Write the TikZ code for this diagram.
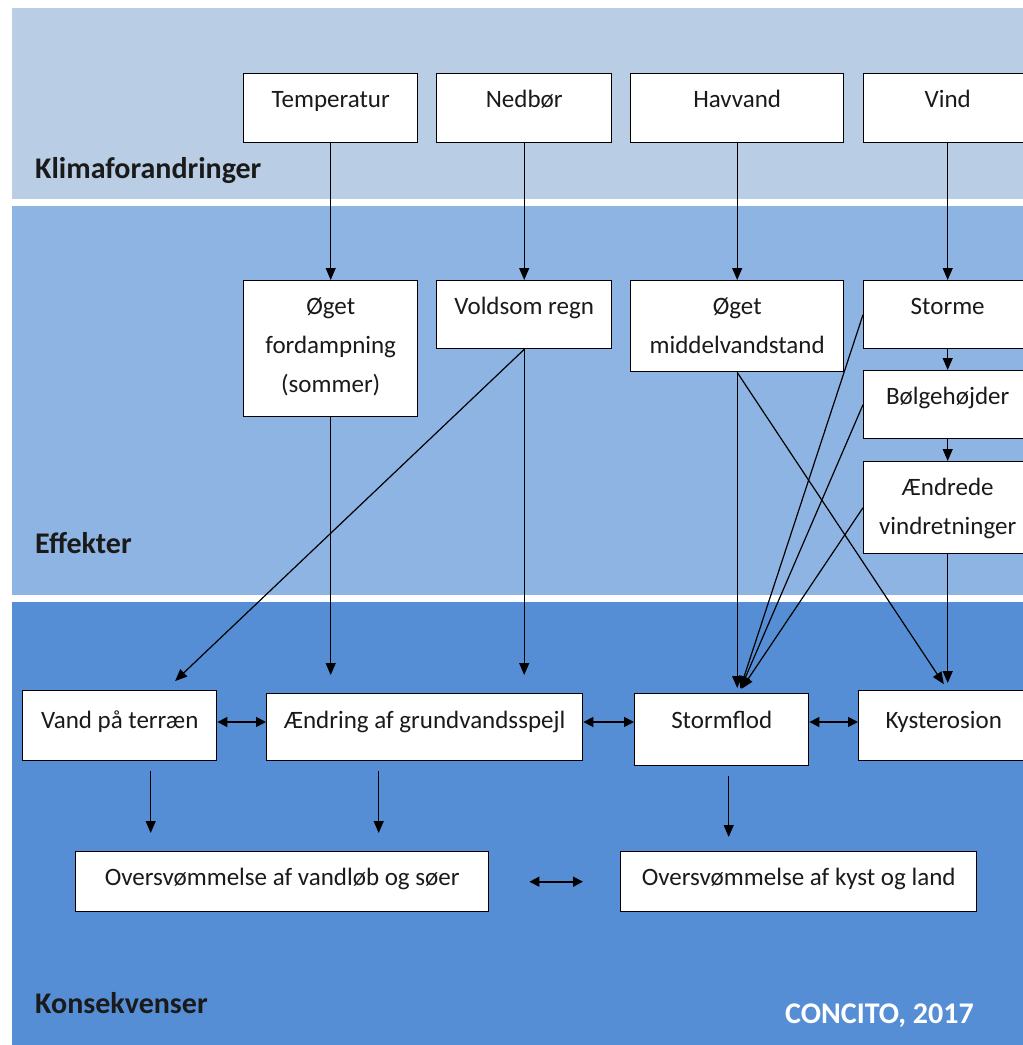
\documentclass[tikz,border=0pt]{standalone}
\usepackage{fontspec}
\setmainfont{Carlito}
\usetikzlibrary{arrows.meta,calc}
\definecolor{bandA}{HTML}{B9CDE5}
\definecolor{bandB}{HTML}{8EB4E3}
\definecolor{bandC}{HTML}{558ED5}
\definecolor{ink}{HTML}{1A1A1A}
\newcommand{\bxt}[3]{\parbox[t][#2pt][t]{#1pt}{\centering\rule{0pt}{34pt}#3\par}}
\tikzset{
  box/.style={draw=black, line width=1.4pt, fill=white, inner sep=0pt, anchor=north west,
    font=\fontsize{25}{39}\selectfont, text=ink},
  arr/.style={line width=1.2pt, draw=black, -{Triangle[length=12pt,width=10pt]}},
  darr/.style={line width=1.6pt, draw=black, {Triangle[length=10pt,width=10pt]}-{Triangle[length=10pt,width=10pt]}},
  band/.style={font=\fontsize{30}{34}\selectfont\bfseries, text=ink, anchor=base west, inner sep=0pt}
}
\begin{document}
\begin{tikzpicture}[x=1pt,y=-1pt]
\useasboundingbox (0,0) rectangle (1023,1045);
\clip (0,0) rectangle (1023,1045);
\fill[white] (0,0) rectangle (1023,1045);
\fill[bandA] (12,8) rectangle (1023,199);
\fill[bandB] (12,206) rectangle (1023,595);
\fill[bandC] (12,602) rectangle (1023,1045);

\node[band] (lk) at (35,178) {Klimaforandringer};
\node[band] (le) at (35,553) {Effekter};
\node[band] (lc) at (35,1013) {Konsekvenser};
\node[anchor=base west, inner sep=0pt, text=white, font=\fontsize{30}{34}\selectfont\bfseries] (src) at (785,1023) {CONCITO, 2017};

% row 1
\node[box] (temp) at (243,73) {\bxt{174}{69}{Temperatur}};
\node[box] (ned) at (436,73) {\bxt{175}{69}{Nedbør}};
\node[box] (hav) at (630,73) {\bxt{213}{69}{Havvand}};
\node[box] (vind) at (863,73) {\bxt{168}{69}{Vind}};
% row 2
\node[box] (ford) at (243,280) {\bxt{174}{136}{Øget\\fordampning\\(sommer)}};
\node[box] (regn) at (436,280) {\bxt{175}{68}{Voldsom regn}};
\node[box] (midd) at (630,280) {\bxt{213}{91}{Øget\\middelvandstand}};
\node[box] (storme) at (863,280) {\bxt{168}{68}{Storme}};
\node[box] (bolge) at (863,370) {\bxt{168}{68}{Bølgehøjder}};
\node[box] (aendr) at (863,461) {\bxt{168}{92}{Ændrede\\vindretninger}};
% row 3
\node[box] (vand) at (22,690) {\bxt{194}{70}{\rule{0pt}{38pt}Vand på terræn}};
\node[box] (grund) at (266,693) {\bxt{316}{67}{\rule{0pt}{35pt}Ændring af grundvandsspejl}};
\node[box] (flod) at (634,693) {\bxt{174}{72}{\rule{0pt}{35pt}Stormflod}};
\node[box] (kyst) at (858,690) {\bxt{170}{70}{\rule{0pt}{38pt}Kysterosion}};
% row 4
\node[box] (over1) at (75,851) {\bxt{413}{60}{Oversvømmelse af vandløb og søer}};
\node[box] (over2) at (620,851) {\bxt{356}{60}{Oversvømmelse af kyst og land}};

\coordinate (fl) at ([xshift=17pt]flod.north);
\coordinate (vt) at ([xshift=46pt]vand.north);
\coordinate (kt) at ([xshift=4pt]kyst.north);

% connectors
\draw[arr] (temp.south) -- (ford.north);
\draw[arr] (ned.south) -- (regn.north);
\draw[arr] (hav.south) -- (midd.north);
\draw[arr] (vind.south) -- (storme.north);
\draw[arr] (storme.south) -- (bolge.north);
\draw[arr] (bolge.south) -- (aendr.north);

\draw[arr, shorten >=18pt] (ford.south) -- (ford.south |- grund.north);
\draw[arr, shorten >=18pt] (regn.south) -- (regn.south |- grund.north);
\draw[arr, shorten >=13pt] (regn.south) -- (vt);
\draw[arr, shorten >=5pt] (midd.south) -- (midd.south |- fl);
\draw[arr, shorten >=7pt] (midd.south) -- (kt);
\draw[arr, shorten >=5pt] (storme.west) -- (fl);
\draw[arr, shorten >=5pt] (bolge.west) -- (fl);
\draw[arr, shorten >=5pt] (aendr.west) -- (fl);
\draw[arr, shorten >=7pt] (aendr.south) -- (aendr.south |- kt);

\draw[darr] (vand.east |- 0,722) -- (grund.west |- 0,722);
\draw[darr] (grund.east |- 0,722) -- (flod.west |- 0,722);
\draw[darr] (flod.east |- 0,722) -- (kyst.west |- 0,722);

\draw[arr, shorten <=10pt, shorten >=18pt] ([xshift=31pt]vand.south) -- ([xshift=31pt]vand.south |- over1.north);
\draw[arr, shorten <=10pt, shorten >=18pt] ([xshift=-46pt]grund.south) -- ([xshift=-46pt]grund.south |- over1.north);
\draw[arr, shorten <=10pt, shorten >=14pt] ([xshift=7pt]flod.south) -- ([xshift=7pt]flod.south |- over2.north);
\draw[darr, shorten <=40pt, shorten >=37pt] (over1.east) -- (over2.west);
\end{tikzpicture}
\end{document}
